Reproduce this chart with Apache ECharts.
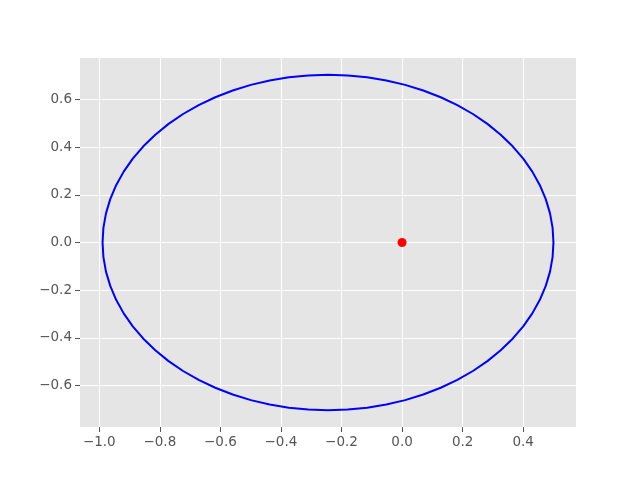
<!DOCTYPE html>
<html><head><meta charset="utf-8">
<script src="https://cdn.jsdelivr.net/npm/echarts@6/dist/echarts.min.js"></script>
<style>html,body{margin:0;padding:0;background:#fff}#c{width:640px;height:480px}</style>
</head><body><div id="c"></div>
<script>
// Orbit points (x, y): upper half then lower half
const orbitUpperX = [0.5000,0.4972,0.4887,0.4746,0.4551,0.4302,0.4002,0.3653,0.3258,0.2819,0.2340,0.1825,0.1277,0.0701,0.0101,-0.0519,-0.1153,-0.1797,-0.2446,-0.3095,-0.3739,-0.4373,-0.4993,-0.5593,-0.6169,-0.6717,-0.7232,-0.7711,-0.8150,-0.8545,-0.8894,-0.9194,-0.9443,-0.9638,-0.9779,-0.9864,-0.9892];
const orbitUpperY = [0,0.0613,0.1221,0.1820,0.2405,0.2972,0.3517,0.4034,0.4521,0.4973,0.5388,0.5761,0.6091,0.6374,0.6609,0.6793,0.6926,0.7006,0.7033,0.7006,0.6926,0.6793,0.6609,0.6374,0.6091,0.5761,0.5388,0.4973,0.4521,0.4034,0.3517,0.2972,0.2405,0.1820,0.1221,0.0613,0];
const orbitLowerX = [-0.9864,-0.9779,-0.9638,-0.9443,-0.9194,-0.8894,-0.8545,-0.8150,-0.7711,-0.7232,-0.6717,-0.6169,-0.5593,-0.4993,-0.4373,-0.3739,-0.3095,-0.2446,-0.1797,-0.1153,-0.0519,0.0101,0.0701,0.1277,0.1825,0.2340,0.2819,0.3258,0.3653,0.4002,0.4302,0.4551,0.4746,0.4887,0.4972,0.5000];
const orbitLowerY = [-0.0613,-0.1221,-0.1820,-0.2405,-0.2972,-0.3517,-0.4034,-0.4521,-0.4973,-0.5388,-0.5761,-0.6091,-0.6374,-0.6609,-0.6793,-0.6926,-0.7006,-0.7033,-0.7006,-0.6926,-0.6793,-0.6609,-0.6374,-0.6091,-0.5761,-0.5388,-0.4973,-0.4521,-0.4034,-0.3517,-0.2972,-0.2405,-0.1820,-0.1221,-0.0613,0];
const sunX = [0.0];
const sunY = [0.0];
const xTicks = [-1.0, -0.8, -0.6, -0.4, -0.2, 0.0, 0.2, 0.4];
const yTicks = [-0.6, -0.4, -0.2, 0.0, 0.2, 0.4, 0.6];

const fmt = v => {
  const s = Math.abs(v).toFixed(1);
  return (v < -1e-9 ? '\u2212' : '') + s;
};
const orbit = orbitUpperX.map((x, i) => [x, orbitUpperY[i]])
  .concat(orbitLowerX.map((x, i) => [x, orbitLowerY[i]]));
const sun = sunX.map((x, i) => [x, sunY[i]]);

const axisCommon = {
  axisLine: {show: false, onZero: false},
  axisTick: {show: true, length: 5, lineStyle: {color: '#555555', width: 1}},
  axisLabel: {color: '#555555', fontSize: 13.5, fontFamily: 'DejaVu Sans', formatter: fmt, margin: 8},
  splitLine: {show: true, lineStyle: {color: '#ffffff', width: 1}}
};
const chart = echarts.init(document.getElementById('c'), null, {renderer: 'canvas'});
chart.setOption({
  animation: false,
  grid: {left: 80, right: 64, top: 58, bottom: 53, show: true, backgroundColor: '#E5E5E5', borderWidth: 0},
  xAxis: Object.assign({}, axisCommon, {
    type: 'value', min: -1.0637, max: 0.5745,
    axisTick: Object.assign({}, axisCommon.axisTick, {customValues: xTicks}),
    axisLabel: Object.assign({}, axisCommon.axisLabel, {customValues: xTicks})
  }),
  yAxis: Object.assign({}, axisCommon, {
    type: 'value', min: -0.7736, max: 0.7736,
    axisTick: Object.assign({}, axisCommon.axisTick, {customValues: yTicks}),
    axisLabel: Object.assign({}, axisCommon.axisLabel, {customValues: yTicks})
  }),
  series: [
    {type: 'line', data: orbit, smooth: false, showSymbol: false, symbol: 'none',
     lineStyle: {color: '#0000ff', width: 2}, z: 2},
    {type: 'scatter', data: sun, symbolSize: 9, itemStyle: {color: '#ff0000', opacity: 1}, z: 3}
  ]
});
</script></body></html>
